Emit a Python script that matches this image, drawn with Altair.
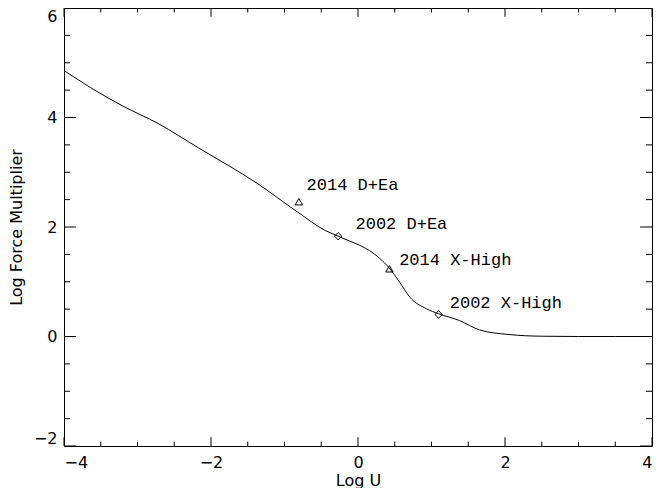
import altair as alt
import pandas as pd

# Curve (Log U vs Log Force Multiplier)
curve_x = [-4.0, -3.521, -3.2, -2.712, -2.172, -1.363, -0.823, -0.445, -0.26,
           0.297, 0.425, 0.56, 0.706, 0.931, 1.097, 1.38, 1.65, 2.055, 2.505,
           3.0, 3.5, 4.0]
curve_y = [4.858, 4.451, 4.21, 3.885, 3.447, 2.789, 2.274, 1.936, 1.826,
           1.425, 1.251, 1.005, 0.718, 0.506, 0.415, 0.292, 0.122, 0.036, 0.005,
           0.0, 0.0, 0.0]

# Marked models
tri_x = [-0.805, 0.428]
tri_y = [2.462, 1.237]
dia_x = [-0.270, 1.097]
dia_y = [1.832, 0.402]

# Annotations
label_text = ["2014 D+Ea", "2002 D+Ea", "2014 X-High", "2002 X-High"]
label_x = [-0.70, -0.034, 0.560, 1.248]
label_y = [2.667, 1.967, 1.315, 0.524]

# Ticks
x_major = [-4, -2, 0, 2, 4]
x_minor = [-3.5, -3, -2.5, -1.5, -1, -0.5, 0.5, 1, 1.5, 2.5, 3, 3.5]
y_major = [-2, 0, 2, 4, 6]
y_minor = [-1.5, -1, -0.5, 0.5, 1, 1.5, 2.5, 3, 3.5, 4.5, 5, 5.5]

W, H = 588, 438
XT_MAJ, XT_MIN = 8.8, 4.4
YT_MAJ, YT_MIN = 11.9, 6.0

xs = alt.Scale(domain=[-4, 4], nice=False, zero=False)
ys = alt.Scale(domain=[-2, 6], nice=False, zero=False)
xaxis = alt.Axis(values=x_major, labelPadding=8, format="d",
                 titleBaseline="alphabetic", titleY=39)
yaxis = alt.Axis(values=y_major, labelPadding=7, titlePadding=9, labelFlush=True, format="d")


def X(f):
    return alt.X(f"{f}:Q", scale=xs, title="Log U", axis=xaxis)


def Y(f):
    return alt.Y(f"{f}:Q", scale=ys, title="Log Force Multiplier", axis=yaxis)


curve_df = pd.DataFrame({"x": curve_x, "y": curve_y})
tri_df = pd.DataFrame({"x": tri_x, "y": tri_y})
dia_df = pd.DataFrame({"x": dia_x, "y": dia_y})
lab_df = pd.DataFrame({"x": label_x, "y": label_y, "t": label_text})

line = alt.Chart(curve_df).mark_line(color="black", strokeWidth=1, interpolate="monotone").encode(
    x=X("x"), y=Y("y"))

tris = alt.Chart(tri_df).mark_point(shape="triangle-up", filled=False, color="black",
                                    size=55, strokeWidth=1, opacity=1).encode(x=X("x"), y=Y("y"))
dias = alt.Chart(dia_df).mark_point(shape="diamond", filled=False, color="black",
                                    size=55, strokeWidth=1, opacity=1).encode(x=X("x"), y=Y("y"))

labels = alt.Chart(lab_df).mark_text(align="left", baseline="alphabetic", font="Liberation Mono",
                                     fontSize=17, color="black").encode(
    x=X("x"), y=Y("y"), text="t:N")


def xticks(vals, length):
    df = pd.DataFrame({"v": vals})
    bottom = alt.Chart(df).mark_rule(color="black", strokeWidth=1).encode(
        x=X("v"), y=alt.value(H), y2=alt.value(H - length))
    top = alt.Chart(df).mark_rule(color="black", strokeWidth=1).encode(
        x=X("v"), y=alt.value(0), y2=alt.value(length))
    return [bottom, top]


def yticks(vals, length):
    df = pd.DataFrame({"v": vals})
    left = alt.Chart(df).mark_rule(color="black", strokeWidth=1).encode(
        y=Y("v"), x=alt.value(0), x2=alt.value(length))
    right = alt.Chart(df).mark_rule(color="black", strokeWidth=1).encode(
        y=Y("v"), x=alt.value(W), x2=alt.value(W - length))
    return [left, right]


layers = [line] + xticks(x_major, XT_MAJ) + xticks(x_minor, XT_MIN) \
    + yticks(y_major, YT_MAJ) + yticks(y_minor, YT_MIN) + [tris, dias, labels]

chart = alt.layer(*layers).properties(
    width=W, height=H,
    padding={"left": 56, "top": 0, "right": 1, "bottom": 42},
    autosize=alt.AutoSizeParams(type="none"),
    background="white",
).configure_view(
    stroke="black", strokeWidth=1
).configure_axis(
    domain=False, ticks=False, grid=False,
    labelFont="DejaVu Sans", labelFontSize=16, labelColor="black",
    titleFont="DejaVu Sans", titleFontSize=16, titleFontWeight="normal", titleColor="black",
)

chart.save("out.html", embed_options={"renderer": "svg", "actions": False})
